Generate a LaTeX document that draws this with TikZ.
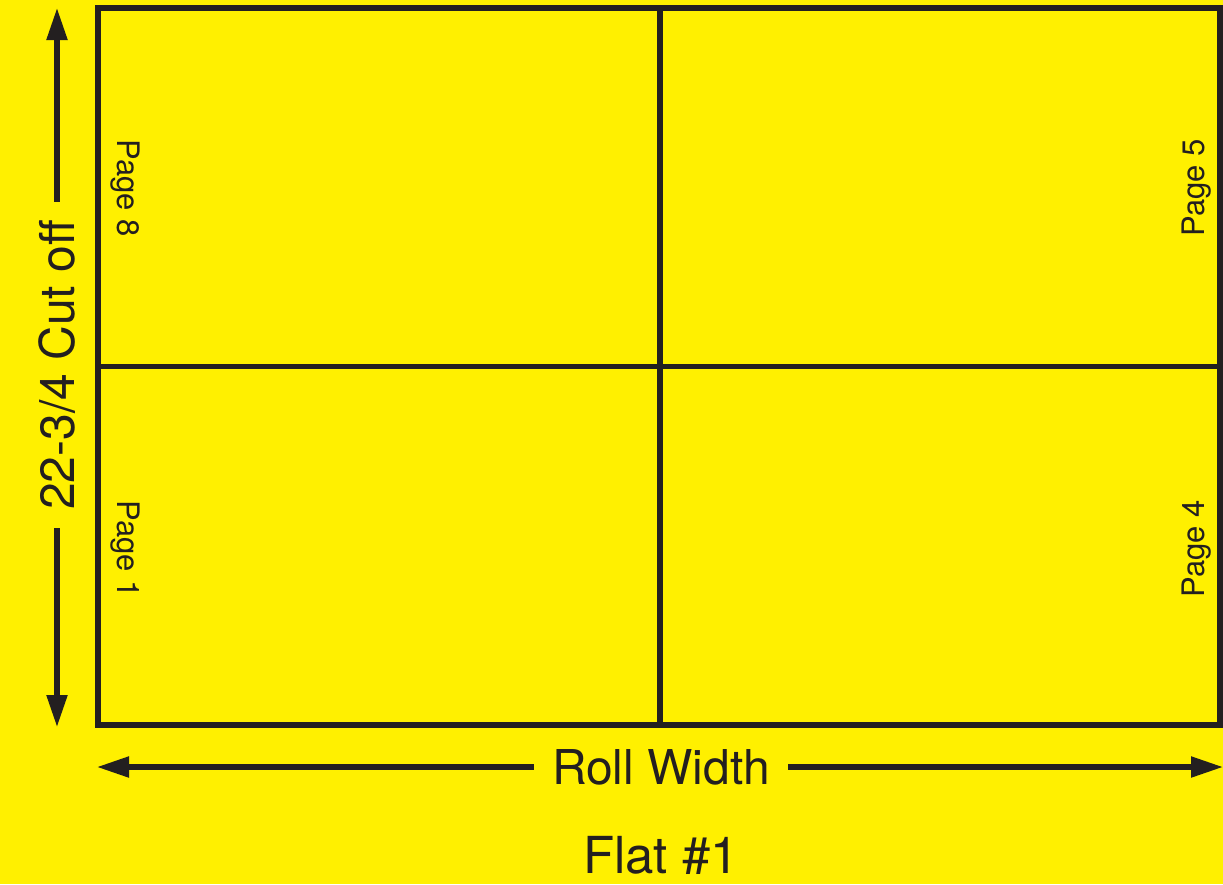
\documentclass[tikz,border=0pt]{standalone}
\usepackage{fontspec}
\setmainfont{TeX Gyre Heros}
\usetikzlibrary{arrows.meta}
\definecolor{bgyellow}{RGB}{255,240,0}
\definecolor{ink}{RGB}{35,31,32}
\begin{document}
\begin{tikzpicture}[x=1pt,y=-1pt,
  frame/.style={draw=ink,line width=5.2pt},
  dimarrow/.style={draw=ink,line width=5.2pt,-{Triangle[length=32pt,width=20pt]}},
  pagelab/.style={text=ink,font=\fontsize{31}{31}\selectfont,inner sep=0pt},
  dimlab/.style={text=ink,font=\fontsize{48}{48}\selectfont,inner ysep=0pt,inner xsep=18pt},
  titlelab/.style={text=ink,font=\fontsize{51}{51}\selectfont,inner sep=0pt}]
\fill[bgyellow] (0,0) rectangle (1223,884);
\useasboundingbox (0,0) rectangle (1223,884);
% sheet
\coordinate (tl) at (98,8);
\coordinate (br) at (1220,725);
\coordinate (mt) at (660,8);
\coordinate (mb) at (660,725);
\coordinate (ml) at (98,366.5);
\coordinate (mr) at (1220,366.5);
\draw[frame] (tl) rectangle (br);
\draw[frame] (mt) -- (mb);
\draw[frame] (ml) -- (mr);
% page labels
\node[pagelab,rotate=-90] (p8) at (125,188) {Page 8};
\node[pagelab,rotate=-90] (p1) at (125,549) {Page 1};
\node[pagelab,rotate=90] (p5) at (1197,188) {Page 5};
\node[pagelab,rotate=90] (p4) at (1197,549) {Page 4};
% cut off dimension
\node[dimlab,rotate=90] (cut) at (57,365) {22-3/4 Cut off};
\coordinate (cuttop) at (57,8);
\coordinate (cutbot) at (57,727);
\draw[dimarrow] (cut.east) -- (cuttop);
\draw[dimarrow] (cut.west) -- (cutbot);
% roll width dimension
\node[dimlab] (roll) at (661,767) {Roll Width};
\coordinate (rollleft) at (97,767);
\coordinate (rollright) at (1223,767);
\draw[dimarrow] (roll.west) -- (rollleft);
\draw[dimarrow] (roll.east) -- (rollright);
% title
\node[titlelab] (title) at (661,855) {Flat \#1};
\end{tikzpicture}
\end{document}
